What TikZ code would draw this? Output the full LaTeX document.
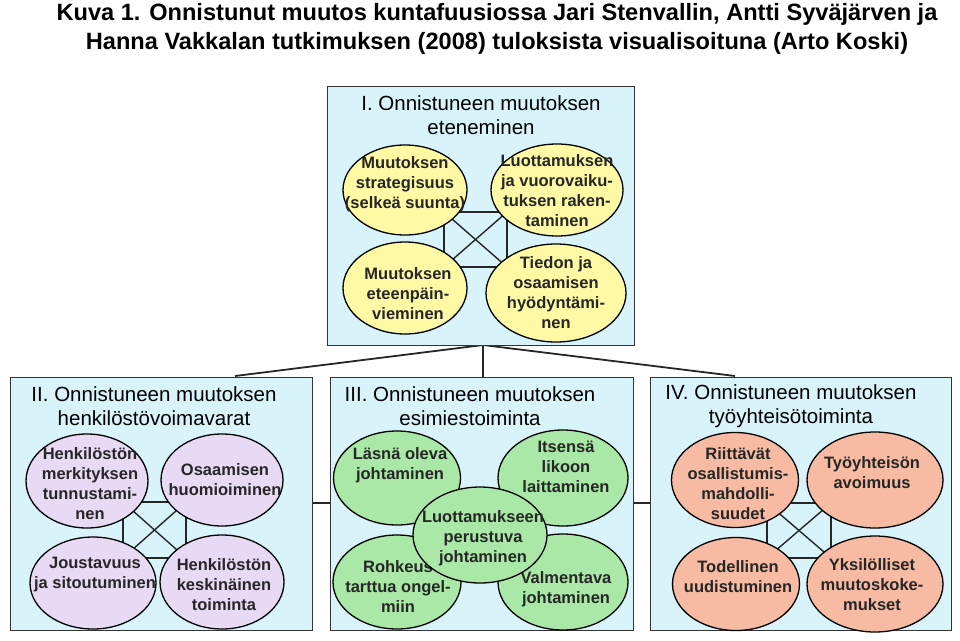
\documentclass[tikz,border=0pt]{standalone}
\usepackage{fontspec}
\setmainfont{Liberation Sans}
\usetikzlibrary{shapes.geometric}
\definecolor{panel}{HTML}{D8F4FA}
\definecolor{yel}{HTML}{FFF9A6}
\definecolor{pur}{HTML}{E8DAF5}
\definecolor{grn}{HTML}{A9E8A6}
\definecolor{sal}{HTML}{F7BBA3}
\tikzset{
 panelbox/.style={draw=black!80,line width=1.2pt,fill=panel},
 ell/.style={ellipse,draw=black,line width=1.3pt,inner sep=0pt},
 etext/.style={font=\bfseries\fontsize{16.5}{20}\selectfont,align=center,text=black!85},
 ptitle/.style={font=\fontsize{20.5}{23.5}\selectfont,align=center},
 conn/.style={line width=1.8pt,black!85},
 sq/.style={line width=1.4pt,black!85}
}
\begin{document}
\begin{tikzpicture}[x=1pt,y=-1pt]
\useasboundingbox (0,0) rectangle (960,640);
\node[anchor=north,align=center,font=\bfseries\fontsize{23.6}{29}\selectfont,inner sep=0pt] (cap) at (497,3) {Kuva 1. Onnistunut muutos kuntafuusiossa Jari Stenvallin, Antti Syväjärven ja\\Hanna Vakkalan tutkimuksen (2008) tuloksista visualisoituna (Arto Koski)};
% connectors between panels
\coordinate (hub) at (483,345);
\coordinate (lII) at (235,376);
\coordinate (lIV) at (735,376);
\draw[conn] (hub) -- (lII);
\draw[conn] (hub) -- (lIV);
\draw[conn] (hub) -- (483,377);
\draw[conn] (312,503) -- (330,503);
\draw[conn] (633,503) -- (650,503);
% panels
\node[panelbox,minimum width=307pt,minimum height=259pt,anchor=north west,inner sep=0pt] (P1) at (327,86) {};
\node[panelbox,minimum width=302pt,minimum height=253pt,anchor=north west,inner sep=0pt] (P2) at (10,377) {};
\node[panelbox,minimum width=303pt,minimum height=253pt,anchor=north west,inner sep=0pt] (P3) at (330,377) {};
\node[panelbox,minimum width=301pt,minimum height=253pt,anchor=north west,inner sep=0pt] (P4) at (650,377) {};
\node[ptitle] (T1) at (481,115) {I. Onnistuneen muutoksen\\eteneminen};
\node[ptitle] (T2) at (154,406) {II. Onnistuneen muutoksen\\henkilöstövoimavarat};
\node[ptitle] (T3) at (470,406) {III. Onnistuneen muutoksen\\esimiestoiminta};
\node[ptitle] (T4) at (791,406) {IV. Onnistuneen muutoksen\\työyhteisötoiminta};
% squares
\foreach \a/\b/\c/\d in {444/507/212/267, 123/186/502/558, 767/831/503/558}{
 \draw[sq] (\a,\c) rectangle (\b,\d);
 \draw[sq] (\a,\c) -- (\b,\d);
 \draw[sq] (\a,\d) -- (\b,\c);
}
% panel I
\node[ell,fill=yel,minimum width=124pt,minimum height=90pt] (a1) at (405,190) {};
\node[etext] at (405,184) {Muutoksen\\strategisuus\\(selkeä suunta)};
\node[ell,fill=yel,minimum width=132pt,minimum height=92pt] (a2) at (557,190) {};
\node[etext] at (557,191) {Luottamuksen\\ja vuorovaiku-\\tuksen raken-\\taminen};
\node[ell,fill=yel,minimum width=124pt,minimum height=92pt] (a3) at (405,288) {};
\node[etext] at (408,294) {Muutoksen\\eteenpäin-\\vieminen};
\node[ell,fill=yel,minimum width=140pt,minimum height=98pt] (a4) at (556,293) {};
\node[etext] at (556,293) {Tiedon ja\\osaamisen\\hyödyntämi-\\nen};
% panel II
\node[ell,fill=pur,minimum width=122pt,minimum height=94pt] (b1) at (87,481) {};
\node[etext] at (90,484) {Henkilöstön\\merkityksen\\tunnustami-\\nen};
\node[ell,fill=pur,minimum width=122pt,minimum height=92pt] (b2) at (222,480) {};
\node[etext] at (225,480) {Osaamisen\\huomioiminen};
\node[ell,fill=pur,minimum width=126pt,minimum height=92pt] (b3) at (93,583) {};
\node[etext] at (95,575) {Joustavuus\\ja sitoutuminen};
\node[ell,fill=pur,minimum width=124pt,minimum height=94pt] (b4) at (222,582) {};
\node[etext] at (224,585) {Henkilöstön\\keskinäinen\\toiminta};
% panel III
\node[ell,fill=grn,minimum width=127pt,minimum height=94pt] (c1) at (397,478) {};
\node[etext] at (400,465) {Läsnä oleva\\johtaminen};
\node[ell,fill=grn,minimum width=130pt,minimum height=96pt] (c2) at (563,478) {};
\node[etext] at (566,467) {Itsensä\\likoon\\laittaminen};
\node[ell,fill=grn,minimum width=128pt,minimum height=94pt] (c4) at (397,582) {};
\node[etext] at (398,587) {Rohkeus\\tarttua ongel-\\miin};
\node[ell,fill=grn,minimum width=130pt,minimum height=96pt] (c5) at (563,582) {};
\node[etext] at (566,589) {Valmentava\\johtaminen};
\node[ell,fill=grn,minimum width=134pt,minimum height=96pt] (c3) at (480,535) {};
\node[etext] at (483,538) {Luottamukseen\\perustuva\\johtaminen};
% panel IV
\node[ell,fill=sal,minimum width=127pt,minimum height=95pt] (d1) at (735,480) {};
\node[etext] at (738,484) {Riittävät\\osallistumis-\\mahdolli-\\suudet};
\node[ell,fill=sal,minimum width=136pt,minimum height=96pt] (d2) at (875,480) {};
\node[etext] at (872,473) {Työyhteisön\\avoimuus};
\node[ell,fill=sal,minimum width=127pt,minimum height=93pt] (d3) at (736,584) {};
\node[etext] at (738,577) {Todellinen\\uudistuminen};
\node[ell,fill=sal,minimum width=136pt,minimum height=96pt] (d4) at (875,584) {};
\node[etext] at (872,585) {Yksilölliset\\muutoskoke-\\mukset};
\end{tikzpicture}
\end{document}
